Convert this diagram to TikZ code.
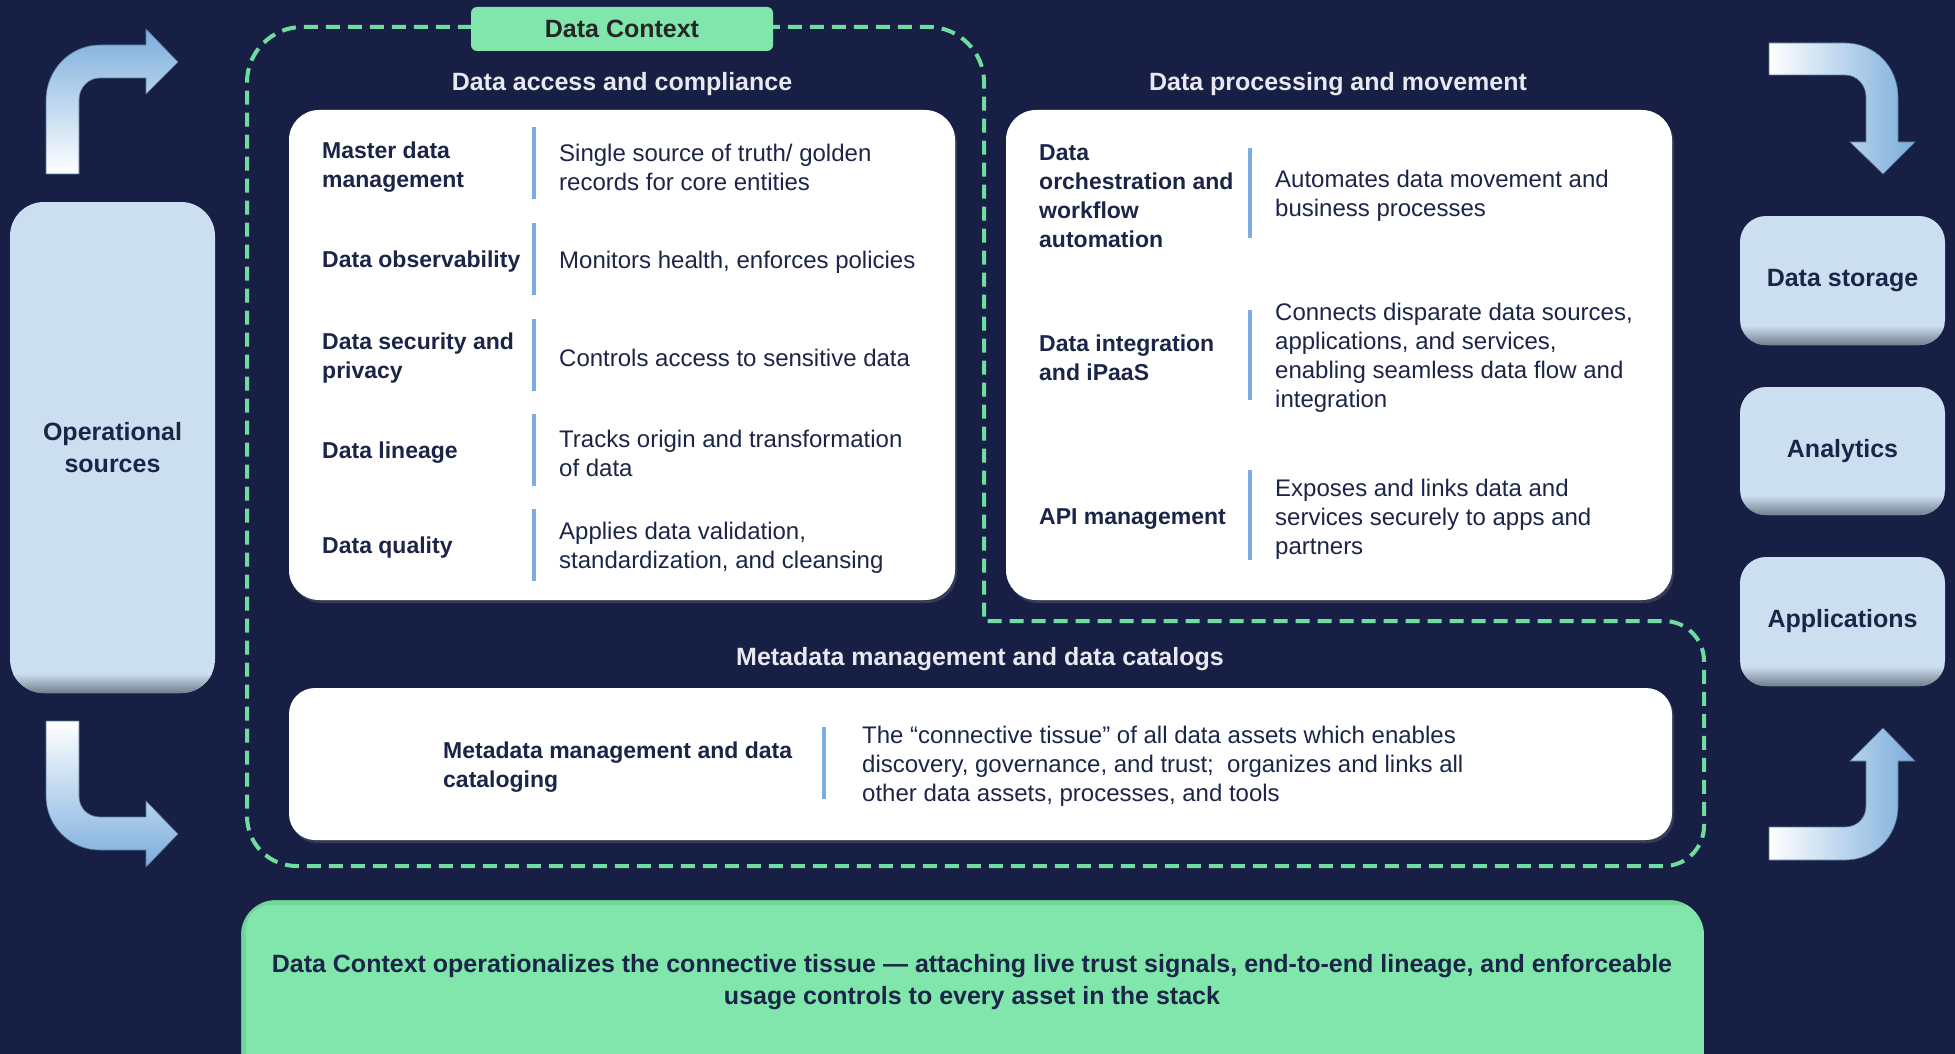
\documentclass[tikz,border=0pt]{standalone}
\usepackage{fontspec}
\setmainfont{Liberation Sans}
\usepackage{xcolor}
\usepackage{tikz}
\usetikzlibrary{positioning,shadows}

\definecolor{bgnavy}{RGB}{23,32,68}
\definecolor{srcblue}{RGB}{204,223,240}
\definecolor{bevel}{RGB}{112,126,142}
\definecolor{barblue}{RGB}{123,174,221}
\definecolor{ctxgreen}{RGB}{128,230,172}
\definecolor{dashgreen}{RGB}{111,220,160}
\definecolor{navytext}{RGB}{27,37,72}
\definecolor{headtext}{RGB}{232,232,240}
\definecolor{arrowblue}{RGB}{122,173,220}

\begin{document}
\begin{tikzpicture}[x=1pt, y=-1pt,
    srcbox/.style={rounded corners=26pt, fill=srcblue, text=navytext, align=center,
        font=\bfseries\fontsize{25}{32}\selectfont, minimum width=205pt},
    panel/.style={rounded corners=30pt, fill=white,
        drop shadow={opacity=0.3, shadow xshift=2pt, shadow yshift=-3pt}},
    heading/.style={text=headtext, yshift=-3pt, font=\bfseries\fontsize{25}{30}\selectfont},
    lbl/.style={anchor=west, align=left, inner sep=0pt, yshift=-3pt, text=navytext,
        font=\bfseries\fontsize{23}{29}\selectfont},
    desc/.style={anchor=west, align=left, inner sep=0pt, yshift=-3pt, text=navytext,
        font=\fontsize{24}{29}\selectfont},
    divider/.style={draw=barblue, line width=3.5pt},
    ctxline/.style={draw=dashgreen, line width=4pt, dash pattern=on 14pt off 8pt},
    flowarrow/.style={draw=arrowblue!70!black, line width=0.6pt}]

    \useasboundingbox (0,0) rectangle (1955,1054);
    \fill[bgnavy] (0,0) rectangle (1955,1054);

    % Curved flow arrows
    \shade[flowarrow, top color=arrowblue, bottom color=white]
        (46,174) -- (46,100) .. controls (46,70) and (70,45) .. (100,45) -- (146,45)
        -- (146,29) -- (178,62) -- (146,94) -- (146,78) -- (100,78)
        .. controls (88,78) and (79,88) .. (79,100) -- (79,174) -- cycle;
    \shade[flowarrow, top color=white, bottom color=arrowblue]
        (46,721) -- (46,796) .. controls (46,826) and (70,850) .. (100,850) -- (146,850)
        -- (146,867) -- (178,834) -- (146,801) -- (146,817) -- (100,817)
        .. controls (88,817) and (79,808) .. (79,796) -- (79,721) -- cycle;
    \shade[flowarrow, left color=white, right color=arrowblue]
        (1769,43) -- (1845,43) .. controls (1875,43) and (1898,67) .. (1898,97) -- (1898,142)
        -- (1915,142) -- (1883,174) -- (1850,142) -- (1866,142) -- (1866,97)
        .. controls (1866,85) and (1857,75) .. (1845,75) -- (1769,75) -- cycle;
    \shade[flowarrow, left color=white, right color=arrowblue]
        (1769,860) -- (1845,860) .. controls (1875,860) and (1898,836) .. (1898,806) -- (1898,761)
        -- (1915,761) -- (1883,728) -- (1850,761) -- (1866,761) -- (1866,806)
        .. controls (1866,818) and (1857,827) .. (1845,827) -- (1769,827) -- cycle;

    % Sources and consumers
    \node[srcbox, minimum height=491pt, rounded corners=34pt] (ops) at (112.5,447.5) {Operational\\sources};
    \node[srcbox, minimum height=129pt] (store) at (1842.5,280.5) {Data storage};
    \node[srcbox, minimum height=128pt] (analytics) at (1842.5,451) {Analytics};
    \node[srcbox, minimum height=129pt] (apps) at (1842.5,621.5) {Applications};
    \foreach \b/\r in {ops/34,store/26,analytics/26,apps/26} {
        \begin{scope}
            \clip[rounded corners=\r pt] (\b.south west) rectangle (\b.north east);
            \shade[top color=srcblue, bottom color=bevel] ([yshift=20pt]\b.south west) rectangle (\b.south east);
        \end{scope}
    }

    % Data Context boundary
    \draw[ctxline] (247,82) .. controls (247,52) and (272,27) .. (302,27) -- (929,27)
        .. controls (959,27) and (984,52) .. (984,82) -- (984,621) -- (1664,621)
        .. controls (1686,621) and (1704,639) .. (1704,661) -- (1704,826)
        .. controls (1704,848) and (1686,866) .. (1664,866) -- (297,866)
        .. controls (269,866) and (247,844) .. (247,816) -- cycle;
    \node[fill=ctxgreen, rounded corners=6pt, minimum width=302pt, minimum height=44pt,
        text=black!85, font=\bfseries\fontsize{25}{30}\selectfont] (ctx) at (622,29) {Data Context};

    % Section headings
    \node[heading] (hAccess) at (622,81) {Data access and compliance};
    \node[heading] (hProc) at (1338,81) {Data processing and movement};
    \node[heading] (hMeta) at (980,656) {Metadata management and data catalogs};

    % Panels
    \node[panel, minimum width=666pt, minimum height=490pt] (access) at (622,355) {};
    \node[panel, minimum width=666pt, minimum height=490pt] (proc) at (1339,355) {};
    \node[panel, minimum width=1383pt, minimum height=152pt, rounded corners=26pt] (meta) at (980.5,764) {};

    % Data access and compliance
    \foreach \y in {163,259,355,450,545}
        \draw[divider] (534,\y-36) -- (534,\y+36);
    \node[lbl] (mdm) at (322,164) {Master data\\management};
    \node[desc] (mdmD) at (559,164) {Single source of truth/ golden\\records for core entities};
    \node[lbl] (obs) at (322,259) {Data observability};
    \node[desc] (obsD) at (559,259) {Monitors health, enforces policies};
    \node[lbl] (sec) at (322,355) {Data security and\\privacy};
    \node[desc] (secD) at (559,355) {Controls access to sensitive data};
    \node[lbl] (lin) at (322,450) {Data lineage};
    \node[desc] (linD) at (559,450) {Tracks origin and transformation\\of data};
    \node[lbl] (qual) at (322,545) {Data quality};
    \node[desc] (qualD) at (559,545) {Applies data validation,\\standardization, and cleansing};

    % Data processing and movement
    \foreach \y in {193,355,515}
        \draw[divider] (1250,\y-45) -- (1250,\y+45);
    \node[lbl] (orch) at (1039,193) {Data\\orchestration and\\workflow\\automation};
    \node[desc] (orchD) at (1275,193) {Automates data movement and\\business processes};
    \node[lbl] (integ) at (1039,355) {Data integration\\and iPaaS};
    \node[desc] (integD) at (1275,355) {Connects disparate data sources,\\applications, and services,\\enabling seamless data flow and\\integration};
    \node[lbl] (api) at (1039,516) {API management};
    \node[desc] (apiD) at (1275,516) {Exposes and links data and\\services securely to apps and\\partners};

    % Metadata management
    \draw[divider] (824,727) -- (824,799);
    \node[lbl] (catalog) at (443,764) {Metadata management and data\\cataloging};
    \node[desc] (catalogD) at (862,763) {The “connective tissue” of all data assets which enables\\discovery, governance, and trust;\ \ organizes and links all\\other data assets, processes, and tools};

    % Summary banner
    \begin{scope}
        \clip[rounded corners=35pt] (241,900) rectangle (1704,1110);
        \fill[ctxgreen] (241,900) rectangle (1704,1110);
        \foreach \w/\o in {22/0.10,14/0.12,7/0.16}
            \draw[green!30!black, opacity=\o, line width=\w pt, rounded corners=35pt] (235,894) rectangle (1770,1120);
    \end{scope}
    \node[text=navytext, align=center, yshift=-3pt, font=\bfseries\fontsize{25}{32}\selectfont] (summary) at (972,979)
        {Data Context operationalizes the connective tissue — attaching live trust signals, end-to-end lineage, and enforceable\\usage controls to every asset in the stack};

\end{tikzpicture}
\end{document}
